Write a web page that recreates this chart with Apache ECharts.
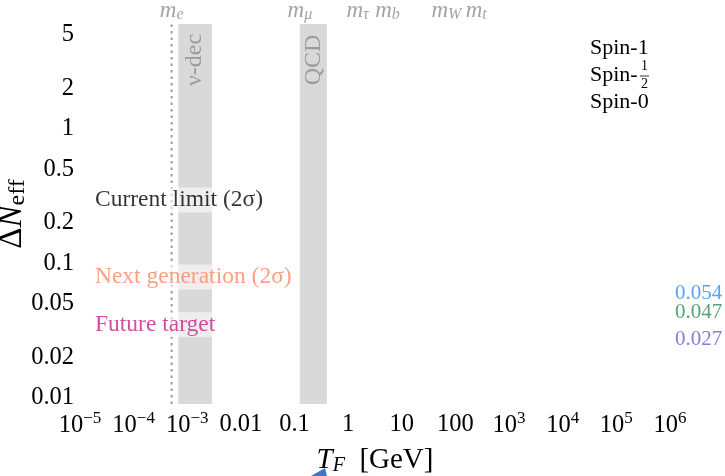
<!DOCTYPE html>
<html>
<head>
<meta charset="utf-8">
<script src="https://cdn.jsdelivr.net/npm/echarts@6/dist/echarts.min.js"></script>
<style>
  html, body { margin: 0; padding: 0; background: #fff; }
  #chart { width: 725px; height: 476px; }
</style>
</head>
<body>
<div id="chart"></div>
<script>
// Decoupling temperature axis (GeV) and Delta N_eff axis, both logarithmic
const xTicks = [1e-5, 1e-4, 1e-3, 0.01, 0.1, 1, 10, 100, 1e3, 1e4, 1e5, 1e6];
const xTickLabels = ['10^−5', '10^−4', '10^−3', '0.01', '0.1', '1', '10', '100', '10^3', '10^4', '10^5', '10^6'];
const yTicks = [0.01, 0.02, 0.05, 0.1, 0.2, 0.5, 1, 2, 5];
const yTickLabels = ['0.01', '0.02', '0.05', '0.1', '0.2', '0.5', '1', '2', '5'];
const xRange = [1e-5, 1e6];
const yRange = [0.009, 6];

// Shaded temperature windows
const bandNames = ['ν-dec', 'QCD'];
const bandFrom = [6.8e-4, 0.125];
const bandTo = [2.9e-3, 0.4];

// Particle masses (GeV); label nudges keep neighbouring names apart
const massNames = ['e', 'μ', 'τ', 'b', 'W', 't'];
const massValues = [0.000511, 0.1057, 1.777, 4.18, 80.4, 173];
const massLabelShift = [0, 4, -4, 6, -4, 8];

// Sensitivity levels
const limitNames = ['Current limit (2σ)', 'Next generation (2σ)', 'Future target'];
const limitLevels = [0.295, 0.079, 0.035];
const limitColors = ['#000000', '#fb8862', '#c8218c'];
const limitLabelT = 1.9e-5;

// Asymptotic Delta N_eff for each spin
const spinNames = ['Spin-1', 'Spin-1/2', 'Spin-0'];
const spinValues = [0.054, 0.047, 0.027];
const spinColors = ['#2a8ff7', '#2e8b57', '#6a5acd'];

const lg = Math.log10;
const FONT = '"Liberation Serif", "DejaVu Serif", serif';
const yMinL = lg(yRange[0]), yMaxL = lg(yRange[1]);

function findLabel(ticks, labels, v) {
  for (let i = 0; i < ticks.length; i++) {
    if (Math.abs(lg(ticks[i]) - v) < 1e-6) return labels[i];
  }
  return '';
}

function xLabelRich(s) {
  const p = s.split('^');
  return p.length === 2 ? '{b|' + p[0] + '}{sup|' + p[1] + '}' : '{b|' + s + '}';
}

const chart = echarts.init(document.getElementById('chart'), null, { renderer: 'canvas' });

const option = {
  backgroundColor: '#fff',
  animation: false,
  textStyle: { fontFamily: FONT },
  grid: { left: 80, right: 55, top: 24, bottom: 72, containLabel: false, outerBoundsMode: 'none' },
  xAxis: {
    type: 'value',
    min: lg(xRange[0]),
    max: lg(xRange[1]),
    interval: 1,
    axisLine: { show: false },
    axisTick: { show: false },
    splitLine: { show: false },
    axisLabel: {
      margin: 6,
      formatter: v => xLabelRich(findLabel(xTicks, xTickLabels, v)),
      rich: {
        b: { fontFamily: FONT, fontSize: 24.5, color: '#000', lineHeight: 27, verticalAlign: 'bottom' },
        sup: { fontFamily: FONT, fontSize: 17, color: '#000', verticalAlign: 'bottom', padding: [0, 0, 11, 0] }
      }
    },
    name: '{i|T}{sub|F}{b|  [GeV]}',
    nameLocation: 'middle',
    nameGap: 40,
    nameMoveOverlap: false,
    nameTextStyle: {
      rich: {
        i: { fontFamily: FONT, fontStyle: 'italic', fontSize: 29, color: '#000' },
        sub: { fontFamily: FONT, fontStyle: 'italic', fontSize: 20, color: '#000', padding: [12, 0, 0, 0] },
        b: { fontFamily: FONT, fontSize: 29, color: '#000' }
      }
    }
  },
  yAxis: {
    type: 'value',
    min: yMinL,
    max: yMaxL,
    axisLine: { show: false },
    axisTick: { show: false },
    splitLine: { show: false },
    axisLabel: {
      customValues: yTicks.map(lg),
      margin: 6,
      fontFamily: FONT,
      fontSize: 24.5,
      color: '#000',
      formatter: v => findLabel(yTicks, yTickLabels, v)
    },
    name: '{d|Δ}{n|N}{sub|eff}',
    nameLocation: 'middle',
    nameRotate: 90,
    nameGap: 50,
    nameMoveOverlap: false,
    nameTextStyle: {
      rich: {
        d: { fontFamily: FONT, fontSize: 33, color: '#000' },
        n: { fontFamily: FONT, fontStyle: 'italic', fontSize: 33, color: '#000' },
        sub: { fontFamily: FONT, fontSize: 24, color: '#000', padding: [12, 0, 0, 0] }
      }
    }
  },
  series: [
    {
      // shaded windows with their rotated names
      type: 'custom',
      z: 1,
      silent: true,
      data: bandFrom.map((f, i) => [lg(f), lg(bandTo[i]), i]),
      encode: { x: [0, 1] },
      renderItem: (params, api) => {
        const p0 = api.coord([api.value(0), yMaxL]);
        const p1 = api.coord([api.value(1), yMinL]);
        const idx = api.value(2);
        return {
          type: 'group',
          children: [
            { type: 'rect', shape: { x: p0[0], y: p0[1], width: p1[0] - p0[0], height: p1[1] - p0[1] },
              style: { fill: '#d9d9d9' } },
            { type: 'text', x: (p0[0] + p1[0]) / 2, y: p0[1] + 36, rotation: Math.PI / 2,
              style: { text: bandNames[idx], font: '24px ' + FONT, fill: '#9b9b9b', align: 'center', verticalAlign: 'middle' } }
          ]
        };
      }
    },
    {
      // electron mass marker
      type: 'line',
      z: 2,
      silent: true,
      symbol: 'none',
      data: [[lg(massValues[0]), yMinL], [lg(massValues[0]), yMaxL]],
      lineStyle: { color: '#9a9a9a', width: 2, type: [2.5, 4] }
    },
    {
      // mass labels along the top
      type: 'scatter',
      z: 3,
      silent: true,
      clip: false,
      symbolSize: 0,
      data: massValues.map((m, i) => ({
        value: [lg(m), yMaxL],
        name: massNames[i],
        label: { offset: [massLabelShift[i], 0] }
      })),
      label: {
        show: true,
        position: 'top',
        distance: 1,
        formatter: p => '{m|m}{s|' + p.name + '}',
        rich: {
          m: { fontFamily: FONT, fontStyle: 'italic', fontSize: 23, color: '#8c8c8c' },
          s: { fontFamily: FONT, fontStyle: 'italic', fontSize: 16, color: '#8c8c8c', padding: [8, 0, 0, 0] }
        }
      }
    },
    {
      // sensitivity level labels
      type: 'scatter',
      z: 5,
      silent: true,
      symbolSize: 0,
      data: limitLevels.map((v, i) => ({
        value: [lg(limitLabelT), lg(v)],
        name: limitNames[i],
        label: { color: limitColors[i] }
      })),
      label: {
        show: true,
        position: 'right',
        distance: 0,
        formatter: p => p.name,
        fontFamily: FONT,
        fontSize: 23.5,
        lineHeight: 23,
        backgroundColor: 'rgba(255,255,255,0.7)',
        padding: [1, 0, 1, 0]
      }
    },
    {
      // asymptotic values at the right edge
      type: 'scatter',
      z: 5,
      silent: true,
      clip: false,
      symbolSize: 0,
      data: spinValues.map((v, i) => ({
        value: [lg(xRange[1]), lg(v)],
        name: String(v),
        label: { color: spinColors[i], offset: [0, i === 0 ? -6 : (i === 1 ? 5 : 0)] }
      })),
      label: {
        show: true,
        position: 'right',
        distance: 5,
        formatter: p => p.name,
        fontFamily: FONT,
        fontSize: 21
      }
    }
  ],
  graphic: [
    { type: 'text', left: 590, top: 37, style: { text: 'Spin-1', font: '22px ' + FONT, fill: '#000' } },
    { type: 'text', left: 590, top: 64, style: { text: 'Spin-', font: '22px ' + FONT, fill: '#000' } },
    { type: 'text', left: 641, top: 59, style: { text: '1', font: '14px ' + FONT, fill: '#000' } },
    { type: 'line', shape: { x1: 640, y1: 76, x2: 649, y2: 76 }, style: { stroke: '#000', lineWidth: 0.8 } },
    { type: 'text', left: 641, top: 77, style: { text: '2', font: '14px ' + FONT, fill: '#000' } },
    { type: 'text', left: 590, top: 91, style: { text: 'Spin-0', font: '22px ' + FONT, fill: '#000' } },
    { type: 'polygon', shape: { points: [[311, 476], [325, 468], [327, 476]] }, style: { fill: '#4472c4' } }
  ]
};

chart.setOption(option);
</script>
</body>
</html>
